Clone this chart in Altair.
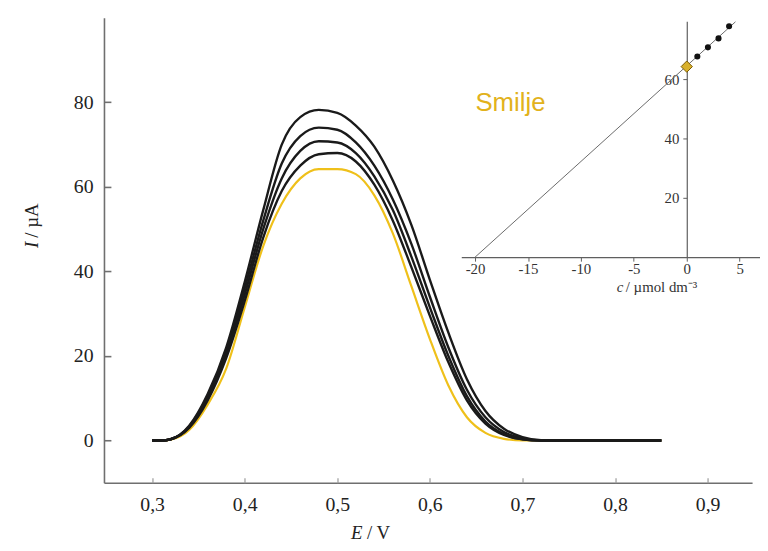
import altair as alt
import pandas as pd

# ---------------- data ----------------
E = [0.30, 0.31, 0.32, 0.34, 0.36, 0.38, 0.40, 0.42, 0.44, 0.46, 0.48, 0.50,
     0.52, 0.54, 0.56, 0.58, 0.60, 0.62, 0.64, 0.66, 0.68, 0.70, 0.72, 0.74,
     0.76, 0.80, 0.85]
smilje = [0, 0, 0.2, 2.5, 8.5, 17, 31.5, 46, 56, 62, 64.2, 64.2,
          63, 58, 49, 36.5, 24, 13, 5.5, 1.8, 0.4, 0, 0, 0, 0, 0, 0]
add1 = [0, 0, 0.3, 3.0, 9.5, 19.5, 33, 48, 59, 65, 67.7, 68,
        66, 60.5, 52, 41, 29.5, 18.5, 9.5, 4, 1.3, 0.3, 0, 0, 0, 0, 0]
add2 = [0, 0, 0.3, 3.2, 10, 20, 34.5, 50, 62, 68.5, 70.8, 70.5,
        68, 62.5, 54.5, 43.5, 31.5, 20, 10.5, 4.5, 1.5, 0.3, 0, 0, 0, 0, 0]
add3 = [0, 0, 0.3, 3.3, 10.5, 21, 36, 52, 65.5, 72, 74, 73.5,
        70.5, 65, 57, 46.5, 34, 22, 12, 5.5, 2, 0.5, 0, 0, 0, 0, 0]
add4 = [0, 0, 0.3, 3.5, 11, 22, 37.5, 54.5, 70, 76.5, 78.2, 77.5,
        74.5, 69.5, 61.5, 51, 38, 25.5, 14.5, 7, 2.8, 0.8, 0.1, 0, 0, 0, 0]

x_ticks = [0.3, 0.4, 0.5, 0.6, 0.7, 0.8, 0.9]
y_ticks = [0, 20, 40, 60, 80]

label_text = ["Smilje"]
label_E = [0.687]
label_I = [78]

# inset (standard addition plot)
conc = [1, 2, 3, 4]
conc_I = [67.6, 70.7, 73.7, 77.8]
sample_c = [0.0]
sample_I = [64.2]
fit_c = [-20.0, 4.6]
fit_I = [0.0, 79.3]
inset_x_ticks = [-20, -15, -10, -5, 0, 5]
inset_y_ticks = [20, 40, 60]

# ---------------- tables ----------------
rows = []
for name, vals in [("a1", add1), ("a2", add2), ("a3", add3), ("a4", add4)]:
    for e, i in zip(E, vals):
        rows.append({"E": e, "I": i, "series": name})
black_df = pd.DataFrame(rows)
gold_df = pd.DataFrame({"E": E, "I": smilje})
label_df = pd.DataFrame({"E": label_E, "I": label_I, "t": label_text})
pts_df = pd.DataFrame({"c": conc, "I": conc_I})
sample_df = pd.DataFrame({"c": sample_c, "I": sample_I})
fit_df = pd.DataFrame({"c": fit_c, "I": fit_I})

W, H = 655, 470
SERIF = "Liberation Serif"
AX = "#6f6f6f"
TXT = "#222222"
GOLD = "#EFC01A"

xs = alt.Scale(domain=[0.248, 0.948], nice=False, zero=False)
ys = alt.Scale(domain=[-10, 100], nice=False, zero=False)

title_style = dict(titleFont=SERIF, titleFontSize=19, titleFontWeight="normal",
                   titleColor=TXT, titleAlign="center")

x_axis = alt.Axis(orient="bottom", values=x_ticks,
                  labelExpr="replace(format(datum.value, '.1f'), '.', ',')",
                  ticks=False, tickSize=0, grid=False,
                  domainColor=AX, domainWidth=1.6,
                  labelFont=SERIF, labelFontSize=20, labelColor=TXT, labelPadding=12,
                  title="/ V", titleX=277, titleY=56, titleBaseline="alphabetic",
                  **title_style)
y_axis = alt.Axis(orient="left", values=y_ticks, ticks=False, tickSize=0, grid=False,
                  domainColor=AX, domainWidth=1.6,
                  labelFont=SERIF, labelFontSize=20, labelColor=TXT, labelPadding=11,
                  title="/ µA", titleX=-73, titleY=204.5, titleBaseline="middle",
                  titleAngle=270, **title_style)

gold_line = alt.Chart(gold_df).mark_line(
    interpolate="monotone", color=GOLD, strokeWidth=2.2
).encode(
    x=alt.X("E:Q", scale=xs, axis=x_axis),
    y=alt.Y("I:Q", scale=ys, axis=y_axis),
)
black_lines = alt.Chart(black_df).mark_line(
    interpolate="monotone", color="#1a1a1a", strokeWidth=2.4
).encode(
    x=alt.X("E:Q", scale=xs),
    y=alt.Y("I:Q", scale=ys),
    detail="series:N",
)
label = alt.Chart(label_df).mark_text(
    font="Liberation Sans", fontSize=26, color="#E2B21C",
    align="center", baseline="alphabetic"
).encode(
    x=alt.X("E:Q", scale=xs),
    y=alt.Y("I:Q", scale=ys),
    text="t:N",
)
main = alt.layer(gold_line, black_lines, label)

# inward pointing ticks of the main axes (+ italic symbols of the axis titles)
tick_layer = alt.Chart(gold_df).mark_point(opacity=0).encode(
    x=alt.X("E:Q", scale=xs,
            axis=alt.Axis(orient="top", offset=-H, values=x_ticks, labels=False,
                          domain=False, ticks=True, tickSize=5, tickColor="#9a9a9a",
                          tickWidth=1.2, grid=False,
                          title="E", titleFontStyle="italic", titleX=255, titleY=56,
                          titleBaseline="alphabetic", **title_style)),
    y=alt.Y("I:Q", scale=ys,
            axis=alt.Axis(orient="right", offset=-W, values=y_ticks, labels=False,
                          domain=False, ticks=True, tickSize=7, tickColor=AX,
                          tickWidth=1.6, grid=False,
                          title="I", titleFontStyle="italic", titleX=-73, titleY=229,
                          titleBaseline="middle", titleAngle=270, **title_style)),
)

# ---------------- inset ----------------
ixs = alt.Scale(domain=[-21.3, 6.9], range=[361.1, 662.8], nice=False, zero=False)
iys = alt.Scale(domain=[0, 79.5], range=[242, 3.5], nice=False, zero=False)
INSET_AX = "#5f5f5f"
inset_title = dict(titleFont=SERIF, titleFontSize=15, titleFontWeight="normal",
                   titleColor="#333333", titleY=30, titleBaseline="middle",
                   titleAlign="center")

ix_axis = alt.Axis(orient="bottom", offset=-(H - 242), values=inset_x_ticks,
                   labelExpr="datum.value < 0 ? '-' + abs(datum.value) : '' + datum.value",
                   grid=False, domainColor=INSET_AX, domainWidth=1.2,
                   tickColor=INSET_AX, tickSize=4, tickWidth=1,
                   labelFont=SERIF, labelFontSize=15, labelColor="#333333", labelPadding=0,
                   title="/ µmol dm⁻³", titleX=563, **inset_title)
iy_axis = alt.Axis(orient="left", offset=-589, values=inset_y_ticks,
                   grid=False, domainColor=INSET_AX, domainWidth=1.2,
                   tickColor=INSET_AX, tickSize=4, tickWidth=1,
                   labelFont=SERIF, labelFontSize=15, labelColor="#333333", labelPadding=4,
                   title="")

fit = alt.Chart(fit_df).mark_line(color="#6a6a6a", strokeWidth=1).encode(
    x=alt.X("c:Q", scale=ixs, axis=ix_axis),
    y=alt.Y("I:Q", scale=iys, axis=iy_axis),
)
pts = alt.Chart(pts_df).mark_point(
    filled=True, color="#111111", size=38, opacity=1
).encode(
    x=alt.X("c:Q", scale=ixs),
    y=alt.Y("I:Q", scale=iys),
)
diamond = alt.Chart(sample_df).mark_point(
    shape="diamond", filled=True, fill="#D8B02C", stroke="#7a5a00",
    strokeWidth=1, size=130, opacity=1
).encode(
    x=alt.X("c:Q", scale=ixs),
    y=alt.Y("I:Q", scale=iys),
)
inset = alt.layer(fit, pts, diamond)

# italic symbol of the inset axis title
inset_c = alt.Chart(fit_df).mark_point(opacity=0).encode(
    x=alt.X("c:Q", scale=ixs,
            axis=alt.Axis(orient="bottom", offset=-(H - 242), values=inset_x_ticks,
                          labels=False, ticks=False, domain=False, grid=False,
                          title="c", titleFontStyle="italic", titleX=521, **inset_title)),
)

chart = alt.layer(main, tick_layer, inset, inset_c).resolve_scale(
    x="independent", y="independent"
).resolve_axis(
    x="independent", y="independent"
).properties(
    width=W, height=H,
    autosize=alt.AutoSizeParams(type="none"),
    padding={"left": 97, "top": 7, "right": 8, "bottom": 58},
    background="white",
).configure_view(stroke="transparent")

chart.save("out.html", embed_options={"renderer": "svg", "actions": False})
